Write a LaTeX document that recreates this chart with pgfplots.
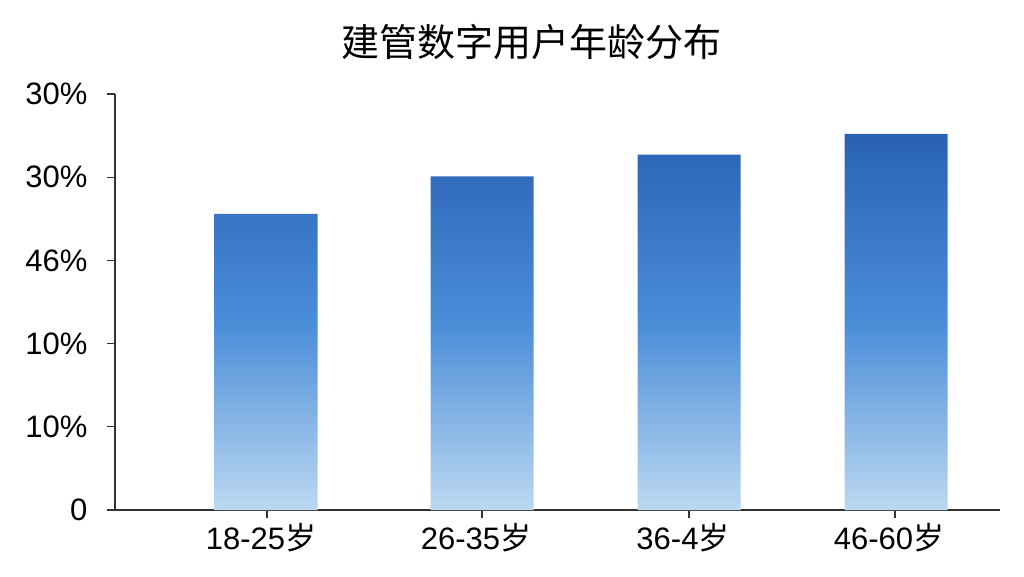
\documentclass[border=0pt]{standalone}
\usepackage{pgfplots}
\pgfplotsset{compat=1.18}
\usepackage{fontspec}
\setmainfont{Liberation Sans}
\newfontfamily\cjk{Noto Sans CJK SC}

\definecolor{bartop}{HTML}{2A62B3}
\definecolor{barmid}{HTML}{4A8DD8}
\definecolor{barbot}{HTML}{BCD8F2}
\definecolor{axisgray}{HTML}{333333}

\begin{document}
\begin{tikzpicture}
	\begin{axis}[
		at={(115pt,66pt)}, anchor=south west,
		scale only axis,
		width=885pt, height=416pt,
		axis lines=left,
		axis line style={-, axisgray, line width=1.4pt},
		% x positions of the categories
		xmin=115, xmax=1000,
		ymin=0, ymax=50,
		xtick={267,482,689,895},
		xticklabels={18-25{\cjk 岁}, 26-35{\cjk 岁}, 36-4{\cjk 岁}, 46-60{\cjk 岁}},
		ytick={0,10,20,30,40,50},
		yticklabels={0, 10\%, 10\%, 46\%, 30\%, 30\%},
		tick align=outside,
		major tick length=8pt,
		tick style={axisgray, line width=1.2pt},
		tick label style={font=\fontsize{31}{34}\selectfont, text=black},
		yticklabel style={xshift=-16pt},
		xticklabel style={yshift=-2pt, xshift=-6pt},
		/pgf/number format/assume math mode=true,
	]
		% bars with vertical gradient, dark on top
		\addplot[ybar, bar width=103pt, draw=none,
			top color=bartop, bottom color=barbot, middle color=barmid]
			coordinates {(266,35.6) (482,40.1) (689,42.7) (896,45.2)};
	\end{axis}

	\node at (531pt,534pt) {\cjk\fontsize{38}{42}\selectfont 建管数字用户年龄分布};

	\pgfresetboundingbox
	\path (0,0) rectangle (1024pt,576pt);
\end{tikzpicture}
\end{document}
